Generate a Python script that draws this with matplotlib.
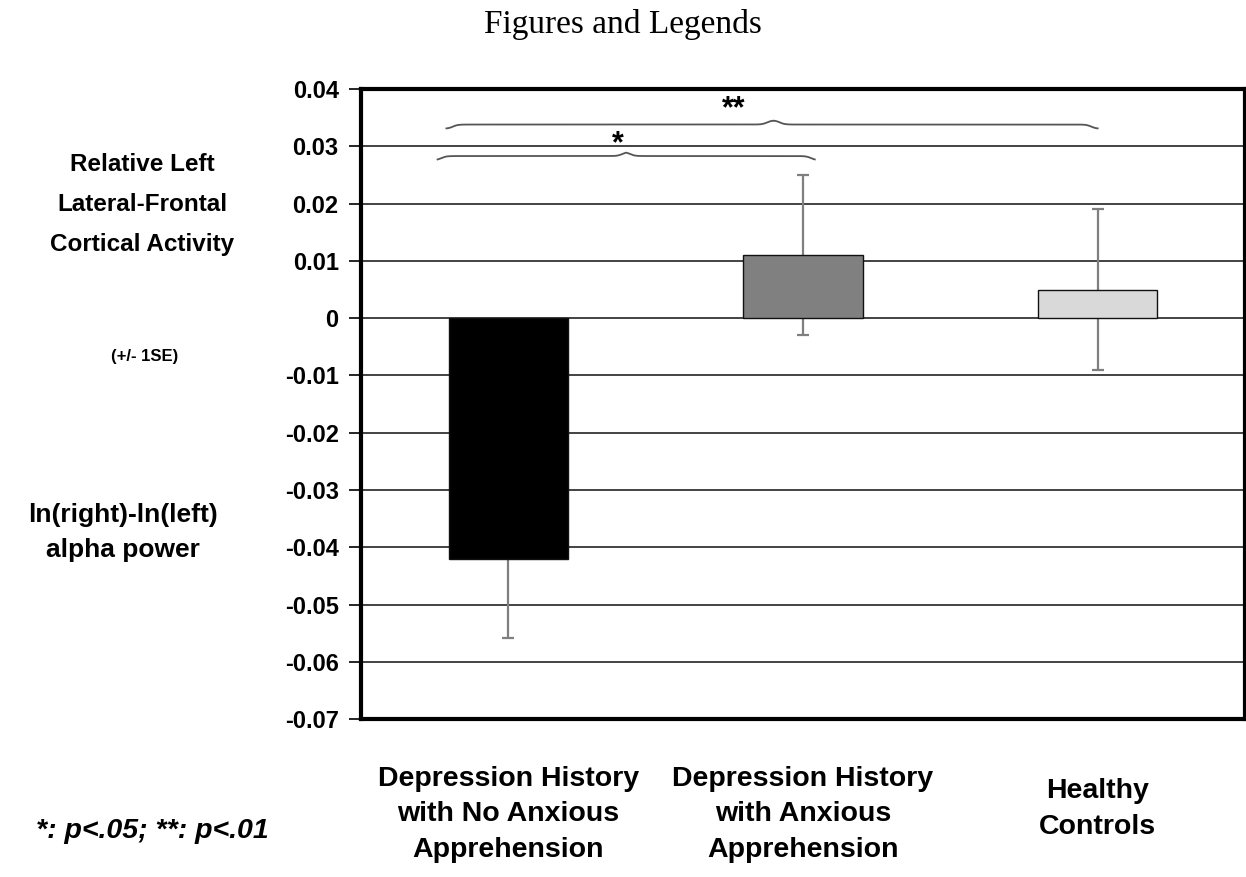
import numpy as np
import matplotlib.pyplot as plt

# data
groups = ['Depression History\nwith No Anxious\nApprehension',
          'Depression History\nwith Anxious\nApprehension',
          'Healthy\nControls']
means = [-0.042, 0.011, 0.005]
ses = [0.0138, 0.014, 0.014]
colors = ['#000000', '#808080', '#d9d9d9']
yticks = [0.04, 0.03, 0.02, 0.01, 0, -0.01, -0.02, -0.03, -0.04, -0.05, -0.06, -0.07]

plt.rcParams['font.family'] = ['Liberation Sans', 'DejaVu Sans']

fig = plt.figure(figsize=(12.46, 8.77), dpi=100)
ax = fig.add_axes([0.2897, 0.180, 0.7095, 0.7185])

x = np.arange(len(groups))
ax.set_axisbelow(True)
ax.yaxis.grid(True, color='#222222', lw=1.2)
ax.bar(x, means, width=0.405, color=colors, edgecolor='#111111', lw=1, zorder=2)
ax.errorbar(x, means, yerr=ses, fmt='none', ecolor='#7f7f7f', elinewidth=1.6,
            capsize=4, capthick=1.6, zorder=1.5)

ax.set_xlim(-0.5, 2.5)
ax.set_ylim(-0.07, 0.04)
ax.set_yticks(yticks)
ax.set_yticklabels(['%g' % t for t in yticks], fontsize=17, fontweight='bold')
ax.tick_params(axis='y', direction='out', length=9, width=1.2, pad=7)
ax.set_xticks([])
for s in ax.spines.values():
    s.set_linewidth(3)
    s.set_color('black')

# category labels
for xi, g in zip(x, groups):
    yy = -0.0866 if xi < 2 else -0.0857
    ax.text(xi, yy, g, ha='center', va='center', fontsize=20.5, fontweight='bold',
            linespacing=1.47, clip_on=False)


# curly braces (sigmoid halves)
def brace(x0, x1, xm, y, h, lw=1.3):
    b = 60.0
    def half(a, c, n=200):
        t = np.linspace(0, 1, n)
        xs = a + (c - a) * t
        w = abs(c - a)
        u = np.abs(xs - a) / w
        ys = 1 / (1 + np.exp(-b * w * (u - 0.02) / 0.5)) + 1 / (1 + np.exp(-b * w * (u - 0.98) / 0.5))
        return xs, ys
    xa, ya = half(x0, xm)
    xb, yb = half(x1, xm)
    xs = np.concatenate([xa, xb[::-1]])
    ys = np.concatenate([ya, yb[::-1]])
    ax.plot(xs, y + h * (ys - 1) * 0.6, color='#555555', lw=lw, clip_on=False, zorder=5)


brace(-0.24, 1.04, 0.40, 0.0283, 0.0012)
ax.text(0.37, 0.0303, '*', ha='center', va='center', fontsize=22, fontweight='bold')
brace(-0.21, 2.0, 0.90, 0.0338, 0.0012)
ax.text(0.765, 0.0365, '**', ha='center', va='center', fontsize=22, fontweight='bold')

# left side text
fig.text(0.114, 0.767, 'Relative Left\nLateral-Frontal\nCortical Activity', ha='center',
         va='center', fontsize=17.5, fontweight='bold', linespacing=1.95)
fig.text(0.116, 0.594, '(+/- 1SE)', ha='center', va='center', fontsize=12, fontweight='bold')
fig.text(0.099, 0.393, 'ln(right)-ln(left)\nalpha power', ha='center', va='center',
         fontsize=19, fontweight='bold', linespacing=1.6)
fig.text(0.029, 0.053, '*: p<.05; **: p<.01', ha='left',
         va='center', fontsize=20.5, fontweight='bold', style='italic')

fig.text(0.5, 0.972, 'Figures and Legends', ha='center', va='center', fontsize=24,
         family=['Liberation Serif', 'DejaVu Serif'])

fig.savefig('out.png', dpi=100)
